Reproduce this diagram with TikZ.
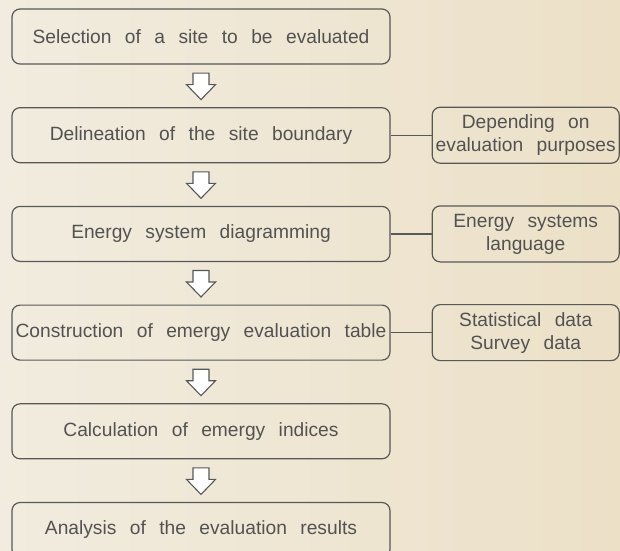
\documentclass[tikz,border=0pt]{standalone}
\usepackage{fontspec}
\setmainfont{Liberation Sans}
\usetikzlibrary{positioning,calc}
\definecolor{fundoA}{RGB}{241,236,223}
\definecolor{fundoB}{RGB}{236,224,199}
\definecolor{contorno}{RGB}{88,88,88}
\definecolor{texto}{RGB}{82,82,82}
\newcommand{\fonteetapa}{\fontsize{19.2}{23}\selectfont\spaceskip=0.7em plus 0.1em\relax}
\tikzset{
    etapa/.style={
        rectangle,
        draw=contorno,
        line width=1.2pt,
        rounded corners=8pt,
        align=center,
        minimum width=378pt,
        minimum height=55pt,
        inner sep=2pt,
        text=texto,
        font=\fonteetapa
    },
    apoio/.style={etapa, minimum width=187pt, minimum height=56pt},
    ligacao/.style={draw=contorno, line width=1.2pt},
    seta/.style={
        draw=contorno,
        fill=white,
        line width=1.1pt,
        line join=miter,
        to path={(\tikztostart) ++(-8,-8.5) -- ++(16,0) -- ++(0,-11.5) -- ++(6.5,0)
            -- ++(-14.5,-15) -- ++(-14.5,15) -- ++(6.5,0) -- cycle}
    }
}

\begin{document}
\begin{tikzpicture}[x=1pt, y=1pt, node distance=42.5pt and 41pt]
    \shade[left color=fundoA, right color=fundoB] (0,0) rectangle (620,-550);
    \useasboundingbox (0,0) rectangle (620,-550);
    \clip (0,0) rectangle (620,-550);

    \node[etapa] (selecao) at (201,-36.5) {Selection of a site to be evaluated};
    \node[etapa, below=of selecao] (limite) {Delineation of the site boundary};
    \node[etapa, below=of limite] (diagrama) {Energy system diagramming};
    \node[etapa, below=of diagrama] (tabela) {Construction of emergy evaluation table};
    \node[etapa, below=of tabela] (indices) {Calculation of emergy indices};
    \node[etapa, below=of indices] (analise) {Analysis of the evaluation results};

    \node[apoio, right=of limite] (proposito) {Depending on\\evaluation purposes};
    \node[apoio, right=of diagrama] (linguagem) {Energy systems\\language};
    \node[apoio, right=of tabela] (dados) {Statistical data\\Survey data};

    \draw[seta] (selecao.south) to (limite.north);
    \draw[seta] (limite.south) to (diagrama.north);
    \draw[seta] (diagrama.south) to (tabela.north);
    \draw[seta] (tabela.south) to (indices.north);
    \draw[seta] (indices.south) to (analise.north);

    \draw[ligacao] (limite) -- (proposito);
    \draw[ligacao] (diagrama) -- (linguagem);
    \draw[ligacao] (tabela) -- (dados);
\end{tikzpicture}
\end{document}
